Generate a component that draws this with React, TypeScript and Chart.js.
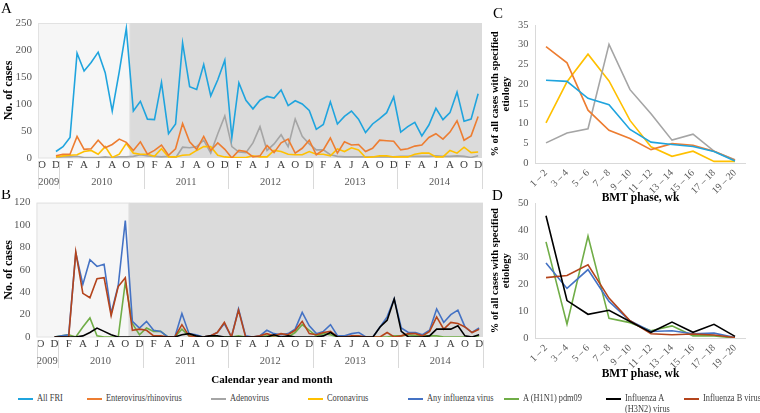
import React, { useEffect, useRef } from 'react';
import { Chart, registerables } from 'chart.js';

Chart.register(...registerables);

const FONT = "'Liberation Serif', 'Times New Roman', serif";

// ---------- monthly time axis (Oct 2009 .. Dec 2014) ----------
const FIRST_YEAR = 2009;
const FIRST_MONTH = 9; // October, 0-based
const MONTH_LETTERS = ['J', 'F', 'M', 'A', 'M', 'J', 'J', 'A', 'S', 'O', 'N', 'D'];
const YEAR_LABELS = ['2009', '2010', '2011', '2012', '2013', '2014'];
const SHADE_SPLIT = 12.5; // between Oct 2010 and Nov 2010

// ---------- Panel A : number of cases per month ----------
const allFRI = [null, null, 12, 21, 38, 194, 161, 177, 196, 158, 87, 160,
  240, 87, 105, 72, 71, 140, 45, 63, 213, 132,
  127, 173, 115, 145, 181, 38, 139, 107, 91, 107,
  114, 111, 126, 97, 106, 100, 88, 53, 62, 104,
  63, 77, 87, 72, 47, 63, 73, 84, 113, 48,
  58, 66, 41, 61, 92, 71, 84, 122, 68, 72, 119];
const enteroRhino = [null, null, 4, 7, 7, 40, 16, 17, 33, 19, 25, 35,
  29, 14, 30, 7, 14, 24, 5, 17, 64, 30,
  16, 40, 14, 28, 16, 0, 14, 12, 2, 4,
  23, 10, 28, 35, 9, 18, 33, 6, 15, 37,
  9, 30, 24, 25, 12, 18, 33, 32, 31, 15,
  17, 22, 24, 38, 45, 35, 48, 69, 33, 41, 77];
const adeno = [null, null, 1, 2, 2, 3, 1, 1, 1, 2, 1, 2,
  2, 3, 6, 4, 3, 2, 3, 0, 20, 19,
  21, 33, 9, 45, 78, 21, 11, 10, 28, 58,
  14, 26, 43, 21, 72, 40, 26, 15, 15, 6,
  3, 2, 2, 2, 2, 2, 2, 2, 2, 3,
  3, 3, 3, 3, 4, 3, 3, 4, 3, 1, 4];
const corona = [null, null, 2, 4, 5, 6, 12, 14, 7, 21, 1, 7,
  27, 9, 7, 7, 3, 17, 2, 2, 5, 6,
  14, 21, 21, 5, 2, 1, 1, 1, 4, 2,
  2, 14, 12, 7, 6, 6, 12, 7, 7, 4,
  17, 12, 19, 15, 1, 2, 4, 4, 2, 2,
  2, 7, 9, 9, 2, 2, 14, 9, 20, 10, 11];

// ---------- Panel B : influenza cases per month ----------
const anyFlu = [null, null, 0, 1, 2, 75, 47, 69, 63, 65, 21, 46,
  104, 14, 8, 14, 6, 5, 0, 0, 21, 3,
  2, 0, 1, 4, 12, 0, 25, 1, 0, 1,
  6, 3, 2, 3, 7, 22, 10, 3, 5, 11,
  1, 1, 3, 4, 0, 0, 9, 18, 34, 8,
  4, 4, 2, 6, 25, 13, 20, 24, 9, 4, 8];
const h1n1 = [null, null, 0, 1, 2, 0, 9, 17, 1, 0, 0, 0,
  49, 12, 2, 8, 5, 5, 0, 0, 7, 1,
  0, 0, 0, 0, 0, 0, 1, 0, 0, 0,
  1, 0, 0, 0, 4, 11, 6, 1, 3, 2,
  0, 0, 0, 0, 0, 0, 0, 0, 1, 1,
  2, 1, 1, 1, 1, 0, 0, 0, 0, 0, 0];
const h3n2 = [null, null, 0, 0, 0, 0, 1, 4, 8, 5, 2, 0,
  0, 0, 0, 0, 0, 0, 0, 0, 2, 3,
  1, 0, 1, 1, 0, 0, 0, 0, 0, 0,
  0, 2, 0, 1, 0, 0, 0, 0, 1, 4,
  0, 0, 0, 0, 0, 0, 9, 15, 34, 5,
  0, 0, 0, 1, 7, 7, 7, 10, 1, 0, 2];
const fluB = [null, null, 0, 0, 0, 76, 39, 35, 52, 53, 19, 45,
  53, 6, 7, 6, 1, 1, 0, 0, 11, 1,
  0, 0, 1, 4, 13, 0, 24, 0, 0, 1,
  3, 1, 3, 2, 6, 14, 3, 2, 4, 5,
  0, 0, 1, 1, 0, 0, 0, 4, 0, 1,
  3, 3, 1, 5, 18, 7, 13, 12, 9, 4, 7];

// ---------- Panels C / D : BMT phase ----------
const BMT_PHASES = ['1 – 2', '3 – 4', '5 – 6', '7 – 8', '9 – 10', '11 – 12', '13 – 14', '15 – 16', '17 – 18', '19 – 20'];
const phaseAllFRI = [21.0, 20.7, 16.4, 14.8, 8.5, 5.3, 4.7, 4.2, 2.9, 0.5];
const phaseEntero = [29.5, 25.4, 13.4, 8.3, 6.2, 3.4, 4.9, 4.5, 3.0, 0.7];
const phaseAdeno = [5.1, 7.6, 8.7, 30.1, 18.6, 12.5, 5.8, 7.3, 3.0, 0.8];
const phaseCorona = [10.2, 20.6, 27.6, 20.8, 10.8, 4.1, 1.7, 3.0, 0.4, 0.4];
const phaseAnyFlu = [27.8, 18.4, 25.4, 13.6, 6.4, 2.4, 2.7, 1.6, 1.8, 0.2];
const phaseH1N1 = [35.7, 5.1, 37.8, 7.3, 5.7, 2.7, 4.5, 0.8, 0.8, 0];
const phaseH3N2 = [45.4, 13.9, 8.8, 10.3, 6.1, 2.1, 5.9, 2.1, 5.1, 0.6];
const phaseFluB = [22.4, 23.2, 27.2, 14.8, 6.4, 1.6, 1.2, 1.5, 1.1, 0.2];

// ---------- legend ----------
const LEGEND_LABELS = ['All FRI', 'Enterovirus/rhinovirus', 'Adenovirus', 'Coronavirus', 'Any influenza virus', 'A (H1N1) pdm09', 'Influenza A\n(H3N2) virus', 'Influenza B virus'];

const COLORS = {
  fri: '#1fa4de',
  entero: '#ed7d31',
  adeno: '#a5a5a5',
  corona: '#ffc000',
  anyFlu: '#4472c4',
  h1n1: '#70ad47',
  h3n2: '#000000',
  fluB: '#b4441c',
};
const LEGEND_COLORS = [COLORS.fri, COLORS.entero, COLORS.adeno, COLORS.corona, COLORS.anyFlu, COLORS.h1n1, COLORS.h3n2, COLORS.fluB];
const LEGEND_X = [18, 87, 211, 308, 408, 504, 606, 684];

const monthLetter = (i: number) => MONTH_LETTERS[(FIRST_MONTH + i) % 12];
const yearStartIndex = (label: string) => (Number(label) - FIRST_YEAR) * 12 - FIRST_MONTH;
const toPoints = (arr: (number | null)[]) => arr.map((v, i) => ({ x: i, y: v }));

const ds = (label: string, data: any, color: string) => ({
  label,
  data,
  borderColor: color,
  backgroundColor: color,
  borderWidth: 1.6,
  pointRadius: 0,
  tension: 0,
  fill: false,
});

const monthlyPlugin = {
  id: 'monthlyDecor',
  beforeDatasetsDraw(chart: any) {
    const { ctx, chartArea, scales } = chart;
    const { left, right, top, bottom } = chartArea;
    const split = scales.x.getPixelForValue(SHADE_SPLIT);
    ctx.save();
    ctx.fillStyle = '#f6f6f6';
    ctx.fillRect(left, top, split - left, bottom - top);
    ctx.fillStyle = '#dbdbdb';
    ctx.fillRect(split, top, right - split, bottom - top);
    ctx.strokeStyle = '#e2e2e2';
    ctx.lineWidth = 1;
    ctx.strokeRect(left + 0.5, top + 0.5, split - left - 0.5, bottom - top - 0.5);
    ctx.restore();
  },
  afterDraw(chart: any, _args: any, opts: any) {
    const { ctx, chartArea, scales } = chart;
    const { left, right, bottom } = chartArea;
    const x = scales.x;
    const bounds = [left];
    YEAR_LABELS.forEach((lab, k) => {
      if (k > 0) bounds.push(x.getPixelForValue(yearStartIndex(lab) - 0.5));
    });
    bounds.push(right);
    ctx.save();
    ctx.strokeStyle = '#d9d9d9';
    ctx.lineWidth = 1;
    bounds.forEach((b) => {
      const px = Math.round(b) + 0.5;
      ctx.beginPath();
      ctx.moveTo(px, bottom + 3);
      ctx.lineTo(px, bottom + 31);
      ctx.stroke();
    });
    ctx.fillStyle = '#595959';
    ctx.font = `10.5px ${FONT}`;
    ctx.textAlign = 'center';
    ctx.textBaseline = 'middle';
    YEAR_LABELS.forEach((lab, k) => {
      ctx.fillText(lab, (bounds[k] + bounds[k + 1]) / 2, bottom + 24);
    });
    ctx.fillStyle = '#000';
    ctx.font = `15px ${FONT}`;
    ctx.textAlign = 'left';
    ctx.textBaseline = 'alphabetic';
    ctx.fillText(opts.letter, opts.letterX, opts.letterY);
    if (opts.title) {
      ctx.font = `bold 11px ${FONT}`;
      ctx.textAlign = 'center';
      ctx.textBaseline = 'middle';
      ctx.fillText(opts.title, opts.titleX, opts.titleY);
    }
    ctx.restore();
  },
};

const letterPlugin = {
  id: 'letterDecor',
  afterDraw(chart: any, _args: any, opts: any) {
    const { ctx } = chart;
    ctx.save();
    ctx.fillStyle = '#000';
    ctx.font = `15px ${FONT}`;
    ctx.textAlign = 'left';
    ctx.textBaseline = 'alphabetic';
    ctx.fillText(opts.letter, opts.letterX, opts.letterY);
    ctx.restore();
  },
};

function monthlyConfig(datasets: any[], yMax: number, yStep: number, layout: any, decor: any) {
  return {
    type: 'line',
    data: { datasets },
    options: {
      responsive: false,
      animation: false,
      devicePixelRatio: 1,
      layout: { padding: { top: layout.top, right: layout.right, bottom: 0, left: 0 } },
      plugins: { legend: { display: false }, tooltip: { enabled: false }, monthlyDecor: decor },
      scales: {
        x: {
          type: 'linear',
          min: -0.55,
          max: 62.55,
          afterBuildTicks: (s: any) => {
            const t = [];
            for (let i = 0; i < allFRI.length; i += 2) t.push({ value: i });
            s.ticks = t;
          },
          ticks: {
            autoSkip: false,
            maxRotation: 0,
            minRotation: 0,
            padding: 1,
            color: '#404040',
            font: { family: FONT, size: 11 },
            callback: (v: number) => monthLetter(v),
          },
          grid: { display: false, drawTicks: false },
          border: { display: false },
          afterFit: (s: any) => { s.height = layout.xHeight; },
        },
        y: {
          min: 0,
          max: yMax,
          ticks: { stepSize: yStep, padding: 6, color: '#595959', font: { family: FONT, size: 11 } },
          grid: { display: false, drawTicks: false },
          border: { display: false },
          title: {
            display: true,
            text: 'No. of cases',
            color: '#000',
            font: { family: FONT, size: 12, weight: 'bold', lineHeight: 1 },
            padding: { top: 3, bottom: 0 },
          },
          afterFit: (s: any) => { s.width = layout.yWidth; },
        },
      },
    },
    plugins: [monthlyPlugin],
  };
}

function phaseConfig(datasets: any[], yMax: number, yStep: number, layout: any, decor: any) {
  return {
    type: 'line',
    data: { labels: BMT_PHASES, datasets },
    options: {
      responsive: false,
      animation: false,
      devicePixelRatio: 1,
      layout: { padding: { top: layout.top, right: layout.right, bottom: 0, left: 0 } },
      plugins: { legend: { display: false }, tooltip: { enabled: false }, letterDecor: decor },
      scales: {
        x: {
          offset: true,
          grid: { display: false, drawTicks: false },
          border: { display: true, color: '#d9d9d9' },
          ticks: {
            autoSkip: false,
            minRotation: 45,
            maxRotation: 45,
            padding: 4,
            color: '#595959',
            font: { family: FONT, size: 10 },
          },
          title: {
            display: true,
            text: 'BMT phase, wk',
            color: '#000',
            font: { family: FONT, size: 11.5, weight: 'bold', lineHeight: 1.1 },
            padding: { top: 0, bottom: 0 },
          },
          afterFit: (s: any) => { s.height = layout.xHeight; },
        },
        y: {
          min: 0,
          max: yMax,
          ticks: { stepSize: yStep, padding: 7, color: '#595959', font: { family: FONT, size: 10.5 } },
          grid: { display: false, drawTicks: false },
          border: { display: true, color: '#d9d9d9' },
          title: {
            display: true,
            text: ['% of all cases with specified', 'etiology'],
            color: '#000',
            font: { family: FONT, size: 10.5, weight: 'bold', lineHeight: 1.05 },
            padding: { top: 0, bottom: 0 },
          },
          afterFit: (s: any) => { s.width = layout.yWidth; },
        },
      },
    },
    plugins: [letterPlugin],
  };
}

export default function App() {
  const refA = useRef<HTMLCanvasElement>(null);
  const refB = useRef<HTMLCanvasElement>(null);
  const refC = useRef<HTMLCanvasElement>(null);
  const refD = useRef<HTMLCanvasElement>(null);

  useEffect(() => {
    Chart.defaults.font.family = FONT;
    const charts: Chart[] = [];

    charts.push(new Chart(refA.current as HTMLCanvasElement, monthlyConfig(
      [
        ds('All FRI', toPoints(allFRI), COLORS.fri),
        ds('Enterovirus/rhinovirus', toPoints(enteroRhino), COLORS.entero),
        ds('Coronavirus', toPoints(corona), COLORS.corona),
        ds('Adenovirus', toPoints(adeno), COLORS.adeno),
      ],
      250, 50,
      { top: 23, right: 8, xHeight: 32, yWidth: 38 },
      { letter: 'A', letterX: 1, letterY: 13 },
    ) as any));

    charts.push(new Chart(refB.current as HTMLCanvasElement, monthlyConfig(
      [
        ds('Influenza A (H3N2) virus', toPoints(h3n2), COLORS.h3n2),
        ds('Influenza B virus', toPoints(fluB), COLORS.fluB),
        ds('Any influenza virus', toPoints(anyFlu), COLORS.anyFlu),
        ds('A (H1N1) pdm09', toPoints(h1n1), COLORS.h1n1),
      ],
      120, 20,
      { top: 12, right: 7, xHeight: 53, yWidth: 36.5 },
      { letter: 'B', letterX: 1, letterY: 9, title: 'Calendar year and month', titleX: 272, titleY: 190 },
    ) as any));

    charts.push(new Chart(refC.current as HTMLCanvasElement, phaseConfig(
      [
        ds('All FRI', phaseAllFRI, COLORS.fri),
        ds('Enterovirus/rhinovirus', phaseEntero, COLORS.entero),
        ds('Adenovirus', phaseAdeno, COLORS.adeno),
        ds('Coronavirus', phaseCorona, COLORS.corona),
      ],
      35, 5,
      { top: 25, right: 14.5, xHeight: 41, yWidth: 45.5 },
      { letter: 'C', letterX: 3, letterY: 18 },
    ) as any));

    charts.push(new Chart(refD.current as HTMLCanvasElement, phaseConfig(
      [
        ds('Influenza A (H3N2) virus', phaseH3N2, COLORS.h3n2),
        ds('Influenza B virus', phaseFluB, COLORS.fluB),
        ds('Any influenza virus', phaseAnyFlu, COLORS.anyFlu),
        ds('A (H1N1) pdm09', phaseH1N1, COLORS.h1n1),
      ],
      50, 10,
      { top: 11, right: 14.5, xHeight: 42, yWidth: 45.5 },
      { letter: 'D', letterX: 2, letterY: 10 },
    ) as any));

    return () => charts.forEach((c) => c.destroy());
  }, []);

  return (
    <div style={{ position: 'absolute', left: 0, top: 0, width: 760, height: 413, background: '#ffffff', overflow: 'hidden' }}>
      <canvas ref={refA} width={490} height={190} style={{ position: 'absolute', left: 0, top: 0, width: 490, height: 190 }} />
      <canvas ref={refB} width={490} height={200} style={{ position: 'absolute', left: 0, top: 190, width: 490, height: 200 }} />
      <canvas ref={refC} width={270} height={204} style={{ position: 'absolute', left: 490, top: 0, width: 270, height: 204 }} />
      <canvas ref={refD} width={270} height={190} style={{ position: 'absolute', left: 490, top: 190, width: 270, height: 190 }} />
      {LEGEND_LABELS.map((label, k) => (
        <div
          key={label}
          style={{
            position: 'absolute',
            left: LEGEND_X[k],
            top: 393,
            display: 'flex',
            alignItems: 'flex-start',
            fontFamily: FONT,
            fontSize: 9.5,
            lineHeight: '11px',
            color: '#404040',
            whiteSpace: 'pre',
          }}
        >
          <span style={{ display: 'inline-block', width: 15, height: 2, background: LEGEND_COLORS[k], marginTop: 5, marginRight: 4, flex: 'none' }} />
          <span style={{ display: 'inline-block', transform: 'scaleX(0.88)', transformOrigin: 'left top' }}>{label}</span>
        </div>
      ))}
    </div>
  );
}
